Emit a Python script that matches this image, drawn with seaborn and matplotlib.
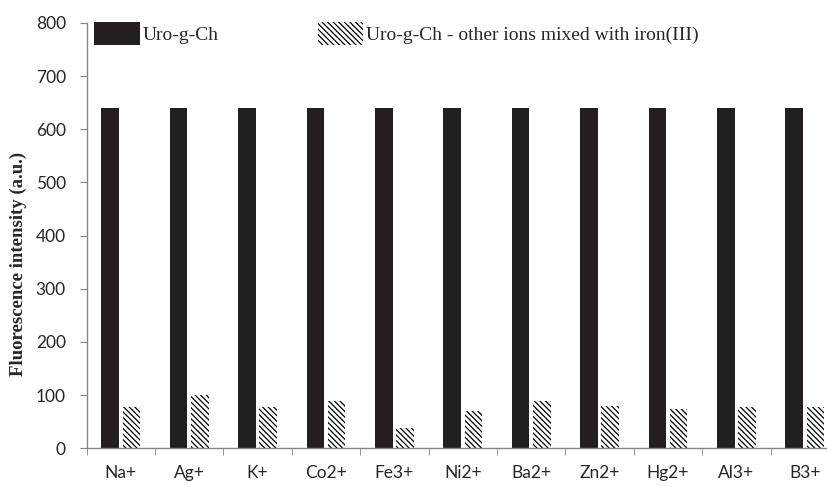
import matplotlib
matplotlib.use("Agg")
import matplotlib.pyplot as plt
import seaborn as sns
import pandas as pd
from matplotlib.patches import Patch

ions = ["Na+", "Ag+", "K+", "Co2+", "Fe3+", "Ni2+", "Ba2+", "Zn2+", "Hg2+", "Al3+", "B3+"]
uro = [640, 640, 640, 640, 640, 640, 640, 640, 640, 640, 640]
mixed = [78, 100, 78, 89, 38, 70, 89, 80, 74, 78, 78]
series_names = ["Uro-g-Ch", "Uro-g-Ch - other ions mixed with iron(III)"]
yticks = [0, 100, 200, 300, 400, 500, 600, 700, 800]

sns.set_style("white")
plt.rcParams["font.family"] = ["Lato", "DejaVu Sans"]
plt.rcParams["hatch.linewidth"] = 0.9

HATCH = "\\\\\\\\\\\\"

df = pd.DataFrame({
    "ion": ions * 2,
    "value": uro + mixed,
    "series": [series_names[0]] * len(ions) + [series_names[1]] * len(ions),
})

fig = plt.figure(figsize=(8.28, 4.86), dpi=100)
ax = fig.add_axes([0.1047, 0.0776, 1.0133 - 0.1047, 0.9527 - 0.0776])

sns.barplot(data=df, x="ion", y="value", hue="series", order=ions,
            hue_order=series_names, palette=["#231f20", "white"],
            width=0.62, gap=0.17, legend=False, ax=ax, saturation=1)

n = len(ions)
for i, p in enumerate(ax.patches):
    if i < n:
        p.set_facecolor("#231f20")
        p.set_edgecolor("none")
        p.set_linewidth(0)
    else:
        p.set_facecolor("white")
        p.set_edgecolor("black")
        p.set_hatch(HATCH)
        p.set_linewidth(0)

ax.set_xlim(-0.5, n - 0.5)
ax.set_ylim(0, 800)
ax.set_yticks(yticks)
ax.set_xlabel("")
ax.set_ylabel("Fluorescence intensity (a.u.)", family="Liberation Serif",
              fontweight="bold", fontsize=13.5)
ax.yaxis.set_label_coords(-0.079, 0.433)

for s in ["top", "right"]:
    ax.spines[s].set_visible(False)
for s in ["left", "bottom"]:
    ax.spines[s].set_color("#868686")
    ax.spines[s].set_linewidth(1.0)

ax.tick_params(axis="y", direction="out", length=5, color="#868686",
               labelsize=12.5, left=True, pad=10, labelcolor="#262626")
ax.tick_params(axis="x", which="major", length=0, labelsize=12.5, pad=12,
               labelcolor="#262626")
ax.set_xticks([i - 0.5 for i in range(n + 1)], minor=True)
ax.tick_params(axis="x", which="minor", direction="out", length=5,
               color="#868686", bottom=True)

handles = [Patch(facecolor="#231f20", edgecolor="none"),
           Patch(facecolor="white", edgecolor="black", hatch=HATCH, linewidth=0)]
leg = ax.legend(handles, series_names, ncol=2, frameon=False,
                loc="upper left", bbox_to_anchor=(0.0097, 1.003),
                prop={"family": "Liberation Serif", "size": 14},
                handlelength=2.35, handleheight=1.5, handletextpad=0.15,
                columnspacing=5.1, borderaxespad=0, borderpad=0)

fig.savefig("out.png", dpi=100)
